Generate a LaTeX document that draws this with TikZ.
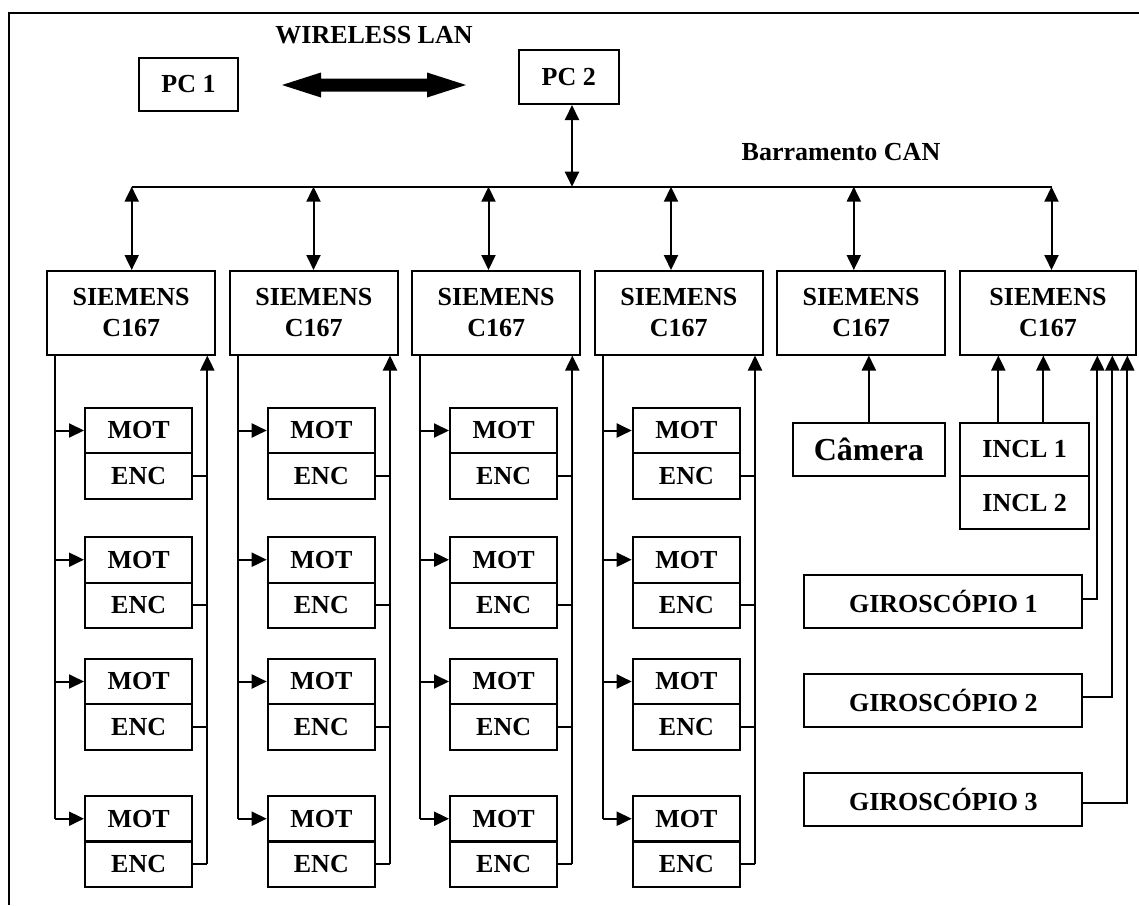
\documentclass[tikz,border=0pt]{standalone}
\usepackage{fontspec}
\setmainfont{Liberation Serif}
\usetikzlibrary{arrows.meta}
\begin{document}
\begin{tikzpicture}[x=1pt,y=-1pt,line width=2pt,
  box/.style={draw,line width=2pt,inner sep=0pt,align=center,font=\fontsize{26}{31}\selectfont\bfseries},
  lbl/.style={inner sep=0pt,font=\fontsize{26}{31}\selectfont\bfseries},
  arr/.style={-{Triangle[length=15pt,width=14pt]}},
  darr/.style={{Triangle[length=15pt,width=14pt]}-{Triangle[length=15pt,width=14pt]}}]
\useasboundingbox (0,0) rectangle (1139,905);
% frame
\draw (9,905) -- (9,12.7) -- (1139,12.7);
% top
\node[lbl] (wlan) at (374,35) {WIRELESS LAN};
\node[box,minimum width=99,minimum height=52.4] (p1) at (188.5,84.5) {PC 1};
\node[box,minimum width=99.6,minimum height=54] (p2) at (568.8,77) {PC 2};
\coordinate (wl) at (282,85);
\coordinate (wr) at (466,85);
\fill (wl) -- ++(39,-12.5) -- ++(0,6) -- (427,78.5) -- ++(0,-6) -- (wr) -- (427,97.5) -- ++(0,-6) -- (321,91.5) -- ++(0,6) -- cycle;
\node[lbl] (can) at (841,152) {Barramento CAN};
\coordinate (b0) at (572,186.7);
\draw[darr] (b0 |- p2.south) -- (b0);
% columns with motors
\foreach \i/\L/\A in {1/47.3/131.7,2/230/313.5,3/412.3/488.5,4/595/671}{
  \node[box,minimum width=167.7,minimum height=83.5] (s\i) at (\L+83.85,312.75) {SIEMENS\\C167};
  \coordinate (t\i) at (\A,186.7);
  \draw[darr] (t\i) -- (t\i |- s\i.north);
  \foreach \j/\my/\ey in {1/430.5/476.15,2/559.7/605.35,3/681.5/727,4/818.7/864.2}{
    \node[box,minimum width=107.3,minimum height=45.6] (m\i\j) at (\L+91.35,\my) {MOT};
    \node[box,minimum width=107.3,minimum height=45.6] (e\i\j) at (\L+91.35,\ey) {ENC};
  }
  \coordinate (fl\i) at (\L+7.7,0);
  \coordinate (fr\i) at (\L+160,0);
  \draw (fl\i |- s\i.south) -- (fl\i |- m\i4.west);
  \foreach \j in {1,2,3,4}{
    \draw[arr] (fl\i |- m\i\j.west) -- (m\i\j.west);
    \draw (e\i\j.east) -- (fr\i |- e\i\j.east);
  }
  \draw[arr] (fr\i |- e\i4.east) -- (fr\i |- s\i.south);
}
\draw (t1) -- (t4);
% column 5
\node[box,minimum width=167.7,minimum height=83.5] (s5) at (861.15,312.75) {SIEMENS\\C167};
\coordinate (t5) at (853.8,186.7);
\draw[darr] (t5) -- (t5 |- s5.north);
\node[box,minimum width=152.3,minimum height=53.3,font=\fontsize{32}{36}\selectfont\bfseries] (cam) at (868.85,449.35) {Câmera};
\draw[arr] (cam.north) -- (cam.north |- s5.south);
% column 6
\node[box,minimum width=176,minimum height=83.5] (s6) at (1048,312.75) {SIEMENS\\C167};
\coordinate (t6) at (1051.5,186.7);
\draw[darr] (t6) -- (t6 |- s6.north);
\draw (t4) -- (t6);
\node[box,minimum width=129.3,minimum height=53.3] (i1) at (1024.65,449.35) {INCL 1};
\node[box,minimum width=129.3,minimum height=53.3] (i2) at (1024.65,502.65) {INCL 2};
\coordinate (ia) at (998.3,0);
\coordinate (ib) at (1043.3,0);
\draw[arr] (ia |- i1.north) -- (ia |- s6.south);
\draw[arr] (ib |- i1.north) -- (ib |- s6.south);
\node[box,minimum width=278,minimum height=53.3] (g1) at (943.3,601.65) {GIROSCÓPIO 1};
\node[box,minimum width=278,minimum height=53.3] (g2) at (943.3,700.35) {GIROSCÓPIO 2};
\node[box,minimum width=278,minimum height=53.3] (g3) at (943.3,799.35) {GIROSCÓPIO 3};
\coordinate (ga) at (1097.3,0);
\coordinate (gb) at (1112.3,0);
\coordinate (gc) at (1127.3,0);
\draw[arr] ([yshift=3pt]g1.east) -| (ga |- s6.south);
\draw[arr] ([yshift=3pt]g2.east) -| (gb |- s6.south);
\draw[arr] ([yshift=-4pt]g3.east) -| (gc |- s6.south);
\end{tikzpicture}
\end{document}
